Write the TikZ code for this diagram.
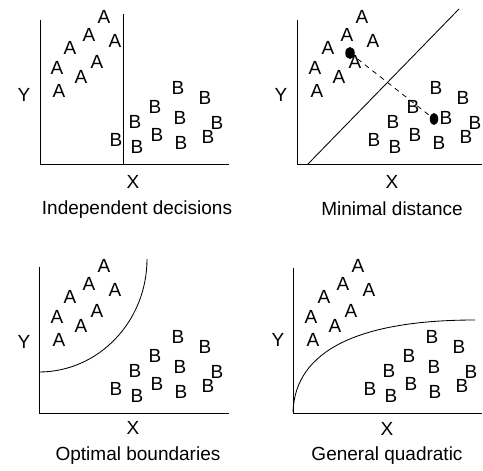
\documentclass[tikz,border=0pt]{standalone}
\usepackage{fontspec}
\setmainfont{Liberation Sans}
\usetikzlibrary{shapes.geometric}
\newcommand\myscatter[4]{% #1 prefix, #2 dx, #3 dy, #4 extra x for fifth B
  \foreach \px/\py [count=\i] in {104/17,89/35,115/41,70/48,97/62,57/68,81/77,59/91}
    \node[lbl] (#1a\i) at (#2+\px,#3+\py) {A};
  \foreach \px/\py [count=\i] in {178/88,205/98,155/107,135/122,180+#4/118,217/123,116/140,137/147,157/135,181/143,208/137}
    \node[lbl] (#1b\i) at (#2+\px,#3+\py) {B};
}
\begin{document}
\begin{tikzpicture}[x=1pt,y=-1pt,
  lbl/.style={font=\fontsize{19}{22}\selectfont, inner sep=0pt},
  captxt/.style={lbl, anchor=base},
  axis/.style={line width=0.85pt},
  bound/.style={line width=0.85pt},
  dot/.style={ellipse, fill=black, minimum width=9.5pt, minimum height=12pt, inner sep=0pt}]
\useasboundingbox (0,0) rectangle (483,471);

% ---------- Panel 1: Independent decisions
\coordinate (o1) at (40,164);
\coordinate (y1) at (40,20);
\coordinate (x1) at (229,164);
\draw[axis] (y1) -- (o1) -- (x1);
\coordinate (v1t) at (123,14);
\coordinate (v1b) at (123,164);
\draw[bound] (v1t) -- (v1b);
\myscatter{p}{0}{0}{0}
\node[lbl] (ylab1) at (24,95) {Y};
\node[lbl] (xlab1) at (133,182) {X};
\node[captxt] (cap1) at (137,214) {Independent decisions};

% ---------- Panel 2: Minimal distance
\coordinate (o2) at (297,164);
\coordinate (y2) at (297,20);
\coordinate (x2) at (482,164);
\draw[axis] (y2) -- (o2) -- (x2);
\coordinate (d2a) at (308,164);
\coordinate (d2b) at (459,9);
\draw[bound] (d2a) -- (d2b);
\myscatter{q}{258}{0}{8}
\node[dot] (dotA) at (350,53) {};
\node[dot, minimum width=8.5pt] (dotB) at (434,119) {};
\draw[line width=0.8pt, dash pattern=on 5pt off 4.5pt] (dotA.center) -- (dotB.center);
\node[lbl] (ylab2) at (281,95) {Y};
\node[lbl] (xlab2) at (392,182) {X};
\node[captxt] (cap2) at (392,215) {Minimal distance};

% ---------- Panel 3: Optimal boundaries
\coordinate (o3) at (39,413);
\coordinate (y3) at (39,267);
\coordinate (x3) at (229,413);
\draw[axis] (y3) -- (o3) -- (x3);
\coordinate (c3s) at (39,372);
\coordinate (c3e) at (147,259);
\draw[bound] (c3s) .. controls (98.6,372) and (147,321.4) .. (c3e);
\myscatter{r}{0}{249}{0}
\node[lbl] (ylab3) at (24,342) {Y};
\node[lbl] (xlab3) at (133,428) {X};
\node[captxt] (cap3) at (138,460) {Optimal boundaries};

% ---------- Panel 4: General quadratic
\coordinate (o4) at (293,413);
\coordinate (y4) at (293,268);
\coordinate (x4) at (482,413);
\draw[axis] (y4) -- (o4) -- (x4);
\coordinate (c4s) at (293,412);
\coordinate (c4e) at (475,320);
\draw[bound] (c4s) .. controls (295,350) and (360,320) .. (c4e);
\myscatter{s}{254}{249}{0}
\node[lbl] (ylab4) at (278,340) {Y};
\node[lbl] (xlab4) at (387,429) {X};
\node[captxt] (cap4) at (387,460) {General quadratic};
\end{tikzpicture}
\end{document}
